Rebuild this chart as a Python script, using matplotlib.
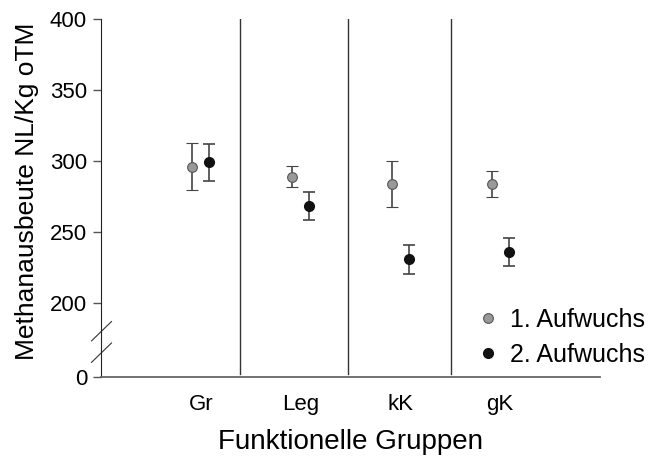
import matplotlib.pyplot as plt
from matplotlib.lines import Line2D
import numpy as np

plt.rcParams['font.family'] = ['Liberation Sans', 'DejaVu Sans']

groups = ['Gr', 'Leg', 'kK', 'gK']
mean_1 = [296, 289, 284, 284]
err_1 = [16.5, 7.5, 16.4, 9.2]
mean_2 = [299, 268.5, 231, 236]
err_2 = [12.7, 9.7, 10.2, 10.1]
y_ticks = [200, 250, 300, 350, 400]

# Achsenbruch: "0" sitzt unterhalb von 200, dazwischen ein Bruch
y_bottom = 148

fig = plt.figure(figsize=(6.5, 4.59), dpi=100)
ax = fig.add_axes([0.1554, 0.1786, 0.7676, 0.78])

x = np.arange(1, len(groups) + 1)
off = 0.085
ax.errorbar(x - off, mean_1, yerr=err_1, fmt='o', color='#999999', mec='#555555', mew=0.8,
            ms=7, ecolor='#444444', elinewidth=1.2, capsize=4, capthick=1.2)
ax.errorbar(x + off, mean_2, yerr=err_2, fmt='o', color='#111111', mec='#111111',
            ms=7, ecolor='#444444', elinewidth=1.2, capsize=4, capthick=1.2)

# Trennlinien zwischen den Gruppen
for sx in [1.39, 2.48, 3.51]:
    ax.plot([sx, sx], [y_bottom + 2, 400], color='#333333', lw=1)

ax.set_xlim(0, 5)
ax.set_ylim(y_bottom, 400)
ax.set_yticks([y_bottom] + y_ticks)
ax.set_yticklabels(['0'] + [str(t) for t in y_ticks], fontsize=16)
ax.set_xticks(x)
ax.set_xticklabels(groups, fontsize=16)
ax.tick_params(axis='x', length=0, pad=12)
ax.tick_params(axis='y', length=6, color='#555555', width=1, pad=4)

for s in ['top', 'right']:
    ax.spines[s].set_visible(False)
ax.spines['left'].set_color('#222222')
ax.spines['bottom'].set_color('#666666')
ax.spines['bottom'].set_linewidth(1.3)

# Bruchzeichen
for yb in [0.101, 0.041]:
    ax.plot([-0.019, 0.021], [yb, yb + 0.054], transform=ax.transAxes, color='#333333',
            lw=0.8, clip_on=False)

ax.set_ylabel('Methanausbeute NL/Kg oTM', fontsize=19, labelpad=6)
ax.yaxis.set_label_coords(-0.125, 0.52)
ax.set_xlabel('Funktionelle Gruppen', fontsize=20, labelpad=10)

handles = [
    Line2D([], [], ls='none', marker='o', color='#999999', mec='#555555', mew=0.8, ms=7),
    Line2D([], [], ls='none', marker='o', color='#111111', mec='#111111', ms=7),
]
ax.legend(handles, ['1. Aufwuchs', '2. Aufwuchs'], loc='lower right',
          bbox_to_anchor=(1.136, -0.035), frameon=False, fontsize=18,
          handletextpad=0.4, labelspacing=0.45, handlelength=1.0)

fig.savefig('out.png', dpi=100)
